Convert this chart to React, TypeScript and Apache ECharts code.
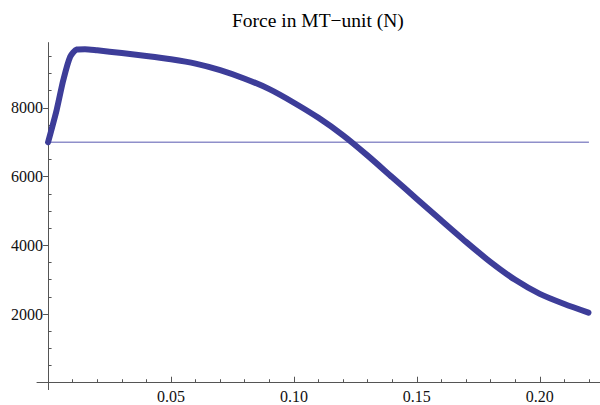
import React, { useEffect, useRef } from "react";
import * as echarts from "echarts";

// Displacement (x) and force (N)
const displacement = [0, 0.0035, 0.0062, 0.009, 0.0117, 0.015, 0.02, 0.03, 0.04, 0.05, 0.06, 0.07, 0.08, 0.09, 0.10, 0.11, 0.12, 0.13, 0.14, 0.15, 0.16, 0.17, 0.18, 0.19, 0.20, 0.21, 0.2198];
const force = [7000, 7940, 8810, 9490, 9700, 9710, 9675, 9595, 9510, 9415, 9290, 9100, 8850, 8545, 8150, 7710, 7200, 6610, 5980, 5350, 4720, 4100, 3510, 2995, 2585, 2290, 2040];

const thresholdX = [0, 0.22];
const thresholdY = [7000, 7000];

const xMajorTicks = [0.05, 0.1, 0.15, 0.2];
const xMinorTicks = [0.01, 0.02, 0.03, 0.04, 0.06, 0.07, 0.08, 0.09, 0.11, 0.12, 0.13, 0.14, 0.16, 0.17, 0.18, 0.19, 0.21, 0.22];
const yMajorTicks = [2000, 4000, 6000, 8000];
const yMinorTicks = [500, 1000, 1500, 2500, 3000, 3500, 4500, 5000, 5500, 6500, 7000, 7500, 8500, 9000, 9500];

const titleText = "Force in MT\u2212unit (N)";

const axisColor = "#555555";
const fontFamily = "'Liberation Serif', 'DejaVu Serif', serif";

export default function App() {
  const ref = useRef<HTMLDivElement>(null);
  useEffect(() => {
    if (!ref.current) return;
    const chart = echarts.init(ref.current, null, { renderer: "svg" });
    const xMin = -0.0045, xMax = 0.2245, yMin = -200, yMax = 9900;
    chart.setOption({
      animation: false,
      backgroundColor: "#ffffff",
      title: {
        text: titleText,
        left: 227,
        top: 5,
        textStyle: { fontFamily, fontSize: 19.5, fontWeight: "normal", color: "#000000" },
      },
      grid: { left: 37, top: 42.6, width: 563, height: 347, containLabel: false, outerBoundsMode: "none" },
      xAxis: [
        {
          type: "value", min: xMin, max: xMax, position: "bottom",
          axisLine: { show: true, onZero: true, onZeroAxisIndex: 0, lineStyle: { color: axisColor, width: 1 } },
          axisTick: { show: true, inside: true, length: 6, customValues: xMajorTicks, lineStyle: { color: axisColor, width: 1 } },
          axisLabel: { show: true, customValues: xMajorTicks, formatter: (v: number) => v.toFixed(2), fontFamily, fontSize: 16, lineHeight: 16, color: "#111111", margin: -1 },
          splitLine: { show: false },
        },
        {
          type: "value", min: xMin, max: xMax, position: "bottom",
          axisLine: { show: false, onZero: true, onZeroAxisIndex: 0 },
          axisTick: { show: true, inside: true, length: 3.5, customValues: xMinorTicks, lineStyle: { color: axisColor, width: 1 } },
          axisLabel: { show: false },
          splitLine: { show: false },
        },
      ],
      yAxis: [
        {
          type: "value", min: yMin, max: yMax, position: "left",
          axisLine: { show: true, onZero: true, onZeroAxisIndex: 0, lineStyle: { color: axisColor, width: 1 } },
          axisTick: { show: true, inside: false, length: 5, customValues: yMajorTicks, lineStyle: { color: axisColor, width: 1 } },
          axisLabel: { show: true, customValues: yMajorTicks, formatter: (v: number) => String(v), fontFamily, fontSize: 16, color: "#111111", margin: -6 },
          splitLine: { show: false },
        },
        {
          type: "value", min: yMin, max: yMax, position: "left",
          axisLine: { show: false, onZero: true, onZeroAxisIndex: 0 },
          axisTick: { show: true, inside: true, length: 3.5, customValues: yMinorTicks, lineStyle: { color: axisColor, width: 1 } },
          axisLabel: { show: false },
          splitLine: { show: false },
        },
      ],
      series: [
        {
          type: "line",
          xAxisIndex: 0, yAxisIndex: 0,
          data: thresholdX.map((x, i) => [x, thresholdY[i]]),
          symbol: "none",
          lineStyle: { color: "#8f8fca", width: 1.5 },
          z: 2,
        },
        {
          type: "line",
          xAxisIndex: 0, yAxisIndex: 0,
          data: displacement.map((x, i) => [x, force[i]]),
          symbol: "none",
          smooth: 0.25,
          lineStyle: { color: "#3d3d99", width: 6, cap: "round", join: "round" },
          z: 3,
        },
      ],
    });
    return () => chart.dispose();
  }, []);
  return <div ref={ref} style={{ position: "absolute", left: 0, top: 0, width: 600, height: 405 }} />;
}
